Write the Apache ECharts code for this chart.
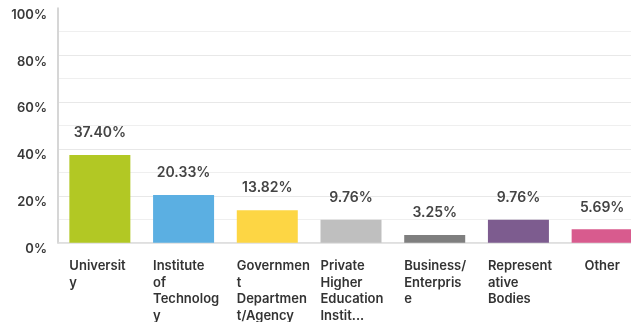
<!DOCTYPE html>
<html>
<head>
<meta charset="utf-8">
<script src="https://cdn.jsdelivr.net/npm/echarts@6/dist/echarts.min.js"></script>
<style>
  html, body { margin: 0; padding: 0; background: #fff; overflow: hidden; }
  /* the plot runs a little past the right edge of the view, clipping the last bar */
  #chart { width: 644px; height: 322px; }
</style>
</head>
<body>
<div id="chart"></div>
<script>
// Respondent organisation types (share of responses, %)
const categories = [
  'Universit\ny',
  'Institute\nof\nTechnolog\ny',
  'Governmen\nt\nDepartmen\nt/Agency',
  'Private\nHigher\nEducation\nInstit...',
  'Business/\nEnterpris\ne',
  'Represent\native\nBodies',
  'Other'
];
const shares = [37.40, 20.33, 13.82, 9.76, 3.25, 9.76, 5.69];
const barColors = ['#b2c824', '#5bafe2', '#fdd644', '#bfbfbf', '#7f7f7f', '#7d5c8f', '#d85b8e'];
const yTicks = [0, 20, 40, 60, 80, 100];

const FONT = 'Inter, "Noto Sans", sans-serif';

const chart = echarts.init(document.getElementById('chart'), null, { renderer: 'canvas' });

chart.setOption({
  animation: false,
  backgroundColor: '#ffffff',
  grid: { left: 58, top: 8.2, bottom: 79.3, right: 0, containLabel: false, outerBoundsMode: 'none' },
  xAxis: {
    type: 'category',
    data: categories,
    axisTick: { show: false },
    axisLine: { show: true, lineStyle: { color: '#dcdcdc', width: 1.5 } },
    axisLabel: {
      interval: 0,
      margin: 15,
      formatter: function (v) {
        if (v.indexOf('\n') < 0) return '{c|' + v + '}';
        return v.split('\n').map(function (s) { return '{w|' + s + '}'; }).join('\n');
      },
      rich: {
        w: { width: 61, align: 'left', fontFamily: FONT, fontSize: 13, fontWeight: 600, color: '#333333', lineHeight: 16.7 },
        c: { fontFamily: FONT, fontSize: 13, fontWeight: 600, color: '#333333', lineHeight: 16.7 }
      }
    }
  },
  yAxis: {
    type: 'value',
    min: yTicks[0],
    max: yTicks[yTicks.length - 1],
    interval: 20,
    axisLine: { show: true, lineStyle: { color: '#d6d6d6', width: 2 } },
    axisTick: { show: false },
    axisLabel: {
      formatter: '{value}%',
      margin: 11,
      verticalAlign: 'top',
      fontFamily: FONT,
      fontSize: 13,
      fontWeight: 600,
      color: '#3a3a3a'
    },
    splitLine: { show: true, showMaxLine: false, lineStyle: { color: '#e8e8e8', width: 1 } },
    minorTick: { show: false, splitNumber: 2 },
    minorSplitLine: { show: true, lineStyle: { color: '#efefef', width: 1 } }
  },
  series: [{
    type: 'bar',
    barWidth: 61,
    data: shares.map(function (v, i) {
      return { value: v, itemStyle: { color: barColors[i] } };
    }),
    label: {
      show: true,
      position: 'top',
      distance: 15,
      formatter: function (p) { return p.value.toFixed(2) + '%'; },
      fontFamily: FONT,
      fontSize: 14,
      fontWeight: 600,
      color: '#444444'
    }
  }]
});
</script>
</body>
</html>
